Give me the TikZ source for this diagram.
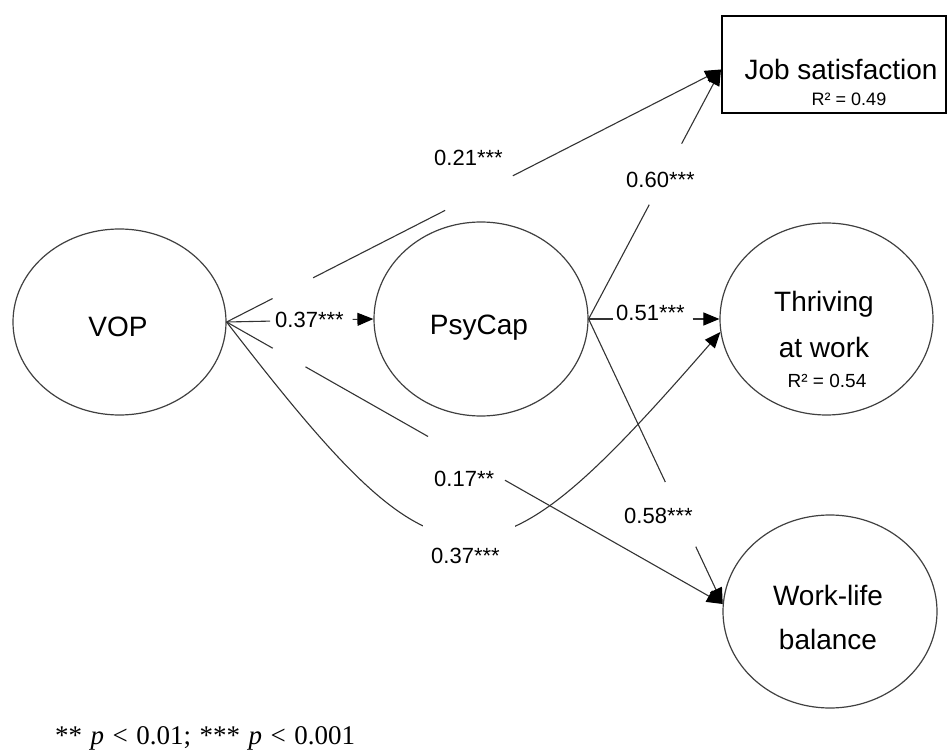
\documentclass[tikz,border=0pt]{standalone}
\usepackage{fontspec}
\setmainfont{Liberation Sans}
\newfontfamily\notefont{Liberation Serif}
\usetikzlibrary{shapes.geometric,arrows.meta,calc}
\definecolor{linecol}{HTML}{333333}
\definecolor{ellcol}{HTML}{404040}
\tikzset{
  ell/.style={draw=ellcol, line width=1.2pt, ellipse, inner sep=0},
  conn/.style={draw=linecol, line width=1.1pt},
  arr/.style={conn, -{Triangle[length=16pt,width=13pt,color=black]}},
  coef/.style={anchor=base west, inner sep=0, font=\fontsize{22}{24}\selectfont},
  big/.style={anchor=base, inner sep=0, font=\fontsize{28}{32}\selectfont},
  rsq/.style={anchor=base, inner sep=0, font=\fontsize{19}{22}\selectfont},
}
\begin{document}
\begin{tikzpicture}[x=1pt,y=-1pt]
\useasboundingbox (0,0) rectangle (948,751);
% nodes
\node[ell, minimum width=213pt, minimum height=186pt] (vop) at (119.5,322) {};
\node[ell, minimum width=214pt, minimum height=194pt] (psy) at (481,319) {};
\node[ell, minimum width=213pt, minimum height=192pt] (thr) at (826.5,319) {};
\node[ell, minimum width=214pt, minimum height=193pt] (wlb) at (830,611.5) {};
\node[draw=black, line width=2pt, rectangle, minimum width=224pt, minimum height=97pt, inner sep=0] (job) at (834,64.5) {};
% texts
\node[big] (tvop) at (118,337) {VOP};
\node[big] (tpsy) at (479,335) {PsyCap};
\node[big] (tjob) at (841,80) {Job satisfaction};
\node[rsq, font=\fontsize{18}{20}\selectfont] (rjob) at (849,106) {R² = 0.49};
\node[big] (tthr1) at (824,312) {Thriving};
\node[big] (tthr2) at (824,358) {at work};
\node[rsq] (rthr) at (827,388) {R² = 0.54};
\node[big] (twlb1) at (828,605) {Work-life};
\node[big] (twlb2) at (828,649) {balance};
% connector end points
\coordinate (jin) at ($(job.west)+(0,5)$);
\coordinate (win) at (wlb.176);
% VOP -> PsyCap
\draw[conn] (vop.east) -- ($(vop.east)!0.297!(psy.west)$);
\draw[arr] ($(vop.east)!0.858!(psy.west)$) -- (psy.west);
% VOP -> Job satisfaction
\draw[conn] (vop.east) -- ($(vop.east)!0.093!(jin)$);
\draw[conn] ($(vop.east)!0.175!(jin)$) -- ($(vop.east)!0.442!(jin)$);
\draw[arr] ($(vop.east)!0.579!(jin)$) -- (jin);
% PsyCap -> Job satisfaction
\draw[conn] (psy.east) -- ($(psy.east)!0.458!(jin)$);
\draw[arr] ($(psy.east)!0.703!(jin)$) -- (jin);
% PsyCap -> Thriving
\draw[conn] (psy.east) -- ($(psy.east)!0.19!(thr.west)$);
\draw[arr] ($(psy.east)!0.795!(thr.west)$) -- (thr.west);
% VOP -> Work-life balance
\draw[conn] (vop.east) -- ($(vop.east)!0.093!(win)$);
\draw[conn] ($(vop.east)!0.159!(win)$) -- ($(vop.east)!0.406!(win)$);
\draw[arr] ($(vop.east)!0.561!(win)$) -- (win);
% PsyCap -> Work-life balance
\draw[conn] (psy.east) -- ($(psy.east)!0.572!(win)$);
\draw[arr] ($(psy.east)!0.799!(win)$) -- (win);
% VOP -> Thriving (curved)
\draw[arr] (vop.east) .. controls (445,605) and (483,605) .. (thr.187);
\fill[white] (423,521) rectangle (515,545);
% coefficients
\node[coef] (c1) at (275,328) {0.37***};
\node[coef] (c2) at (434,166) {0.21***};
\node[coef] (c3) at (626,188) {0.60***};
\node[coef] (c4) at (616,321) {0.51***};
\node[coef] (c5) at (434,486) {0.17**};
\node[coef] (c6) at (624,523) {0.58***};
\node[coef] (c7) at (431,563) {0.37***};
% footnote
\node[anchor=base west, inner sep=0, font=\notefont\fontsize{27}{30}\selectfont] (note) at (55,744) {\spaceskip=8.5pt ** \textit{p} < 0.01; *** \textit{p} < 0.001};
\end{tikzpicture}
\end{document}
